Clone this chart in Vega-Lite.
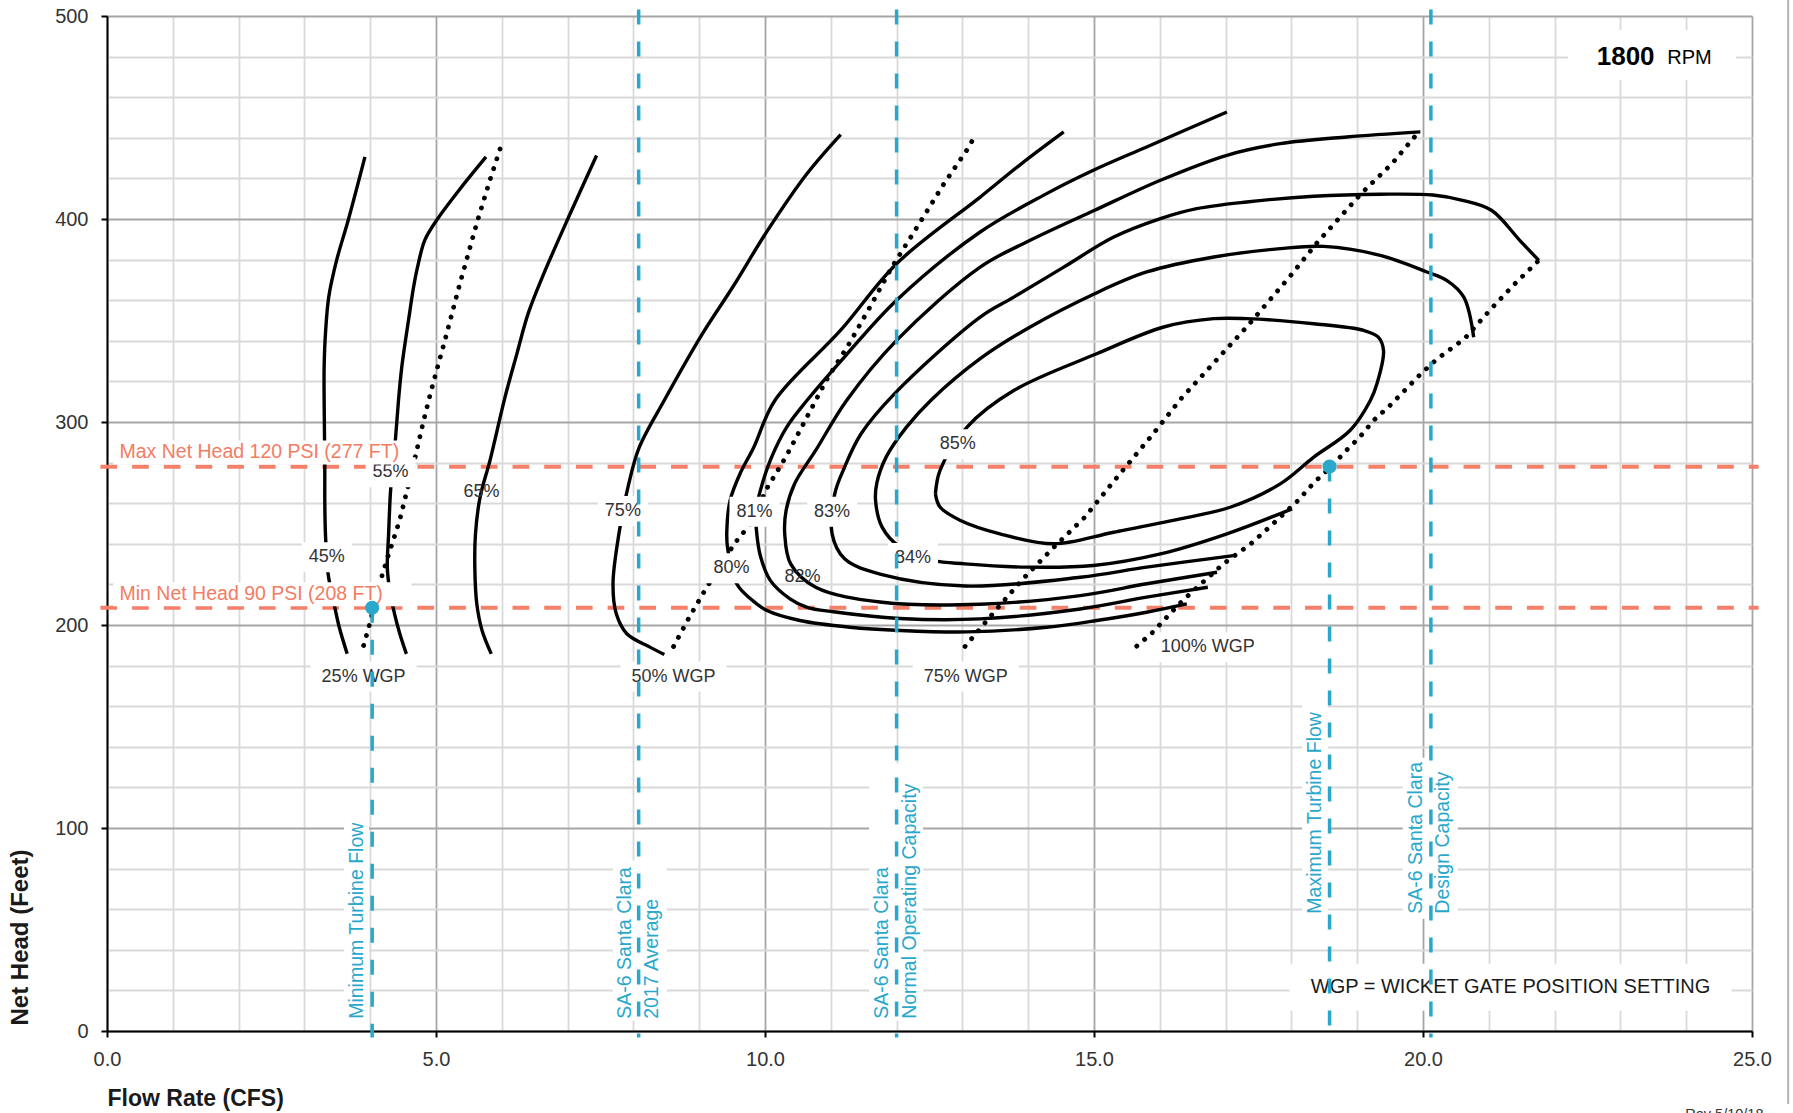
{
"$schema":"https://vega.github.io/schema/vega-lite/v6.json",
"width":1645,"height":1015,
"autosize":{"type":"none"},
"padding":{"left":107,"top":16,"right":41,"bottom":82},
"background":"white",
"config":{"view":{"stroke":null},"font":"Liberation Sans"},
"datasets":{
"limits":[{"name":"Max Net Head","x":-0.1,"x2":25.1,"y":278},{"name":"Min Net Head","x":-0.1,"x2":25.1,"y":208.5}],
"curves":[
{"c":"45","i":0,"x":3.92,"y":430.6},{"c":"45","i":1,"x":3.67,"y":399.9},{"c":"45","i":2,"x":3.49,"y":379.7},{"c":"45","i":3,"x":3.37,"y":361.6},{"c":"45","i":4,"x":3.32,"y":343.5},{"c":"45","i":5,"x":3.30,"y":327.1},{"c":"45","i":6,"x":3.30,"y":310.7},{"c":"45","i":7,"x":3.31,"y":277.8},{"c":"45","i":8,"x":3.31,"y":261.3},{"c":"45","i":9,"x":3.32,"y":244.9},{"c":"45","i":10,"x":3.36,"y":225.2},{"c":"45","i":11,"x":3.44,"y":212.2},{"c":"45","i":12,"x":3.53,"y":198.9},{"c":"45","i":13,"x":3.65,"y":185.8},
{"c":"55","i":0,"x":5.76,"y":430.6},{"c":"55","i":1,"x":5.35,"y":414.2},{"c":"55","i":2,"x":5.01,"y":399.4},{"c":"55","i":3,"x":4.83,"y":389.6},{"c":"55","i":4,"x":4.72,"y":376.4},{"c":"55","i":5,"x":4.66,"y":366.6},{"c":"55","i":6,"x":4.59,"y":351.8},{"c":"55","i":7,"x":4.48,"y":327.1},{"c":"55","i":8,"x":4.43,"y":310.7},{"c":"55","i":9,"x":4.37,"y":286.0},{"c":"55","i":10,"x":4.31,"y":266.3},{"c":"55","i":11,"x":4.28,"y":244.9},{"c":"55","i":12,"x":4.26,"y":228.5},{"c":"55","i":13,"x":4.29,"y":218.6},{"c":"55","i":14,"x":4.37,"y":205.5},{"c":"55","i":15,"x":4.45,"y":195.7},{"c":"55","i":16,"x":4.55,"y":185.8},
{"c":"65","i":0,"x":7.44,"y":431.3},{"c":"65","i":1,"x":7.04,"y":402.7},{"c":"65","i":2,"x":6.64,"y":373.2},{"c":"65","i":3,"x":6.40,"y":353.4},{"c":"65","i":4,"x":6.23,"y":333.7},{"c":"65","i":5,"x":6.05,"y":312.4},{"c":"65","i":6,"x":5.82,"y":281.0},{"c":"65","i":7,"x":5.67,"y":263.0},{"c":"65","i":8,"x":5.60,"y":244.9},{"c":"65","i":9,"x":5.59,"y":228.5},{"c":"65","i":10,"x":5.62,"y":210.4},{"c":"65","i":11,"x":5.70,"y":197.3},{"c":"65","i":12,"x":5.84,"y":185.8},
{"c":"75","i":0,"x":11.15,"y":441.6},{"c":"75","i":1,"x":10.64,"y":422.4},{"c":"75","i":2,"x":10.04,"y":394.4},{"c":"75","i":3,"x":9.51,"y":366.5},{"c":"75","i":4,"x":9.05,"y":343.5},{"c":"75","i":5,"x":8.47,"y":310.7},{"c":"75","i":6,"x":8.09,"y":287.6},{"c":"75","i":7,"x":7.93,"y":269.6},{"c":"75","i":8,"x":7.78,"y":244.9},{"c":"75","i":9,"x":7.69,"y":220.3},{"c":"75","i":10,"x":7.74,"y":205.5},{"c":"75","i":11,"x":7.90,"y":195.7},{"c":"75","i":12,"x":8.25,"y":189.1},{"c":"75","i":13,"x":8.47,"y":185.5},
{"c":"80","i":0,"x":14.54,"y":442.9},{"c":"80","i":1,"x":13.90,"y":427.3},{"c":"80","i":2,"x":13.27,"y":410.8},{"c":"80","i":3,"x":12.00,"y":378.0},{"c":"80","i":4,"x":11.15,"y":345.2},{"c":"80","i":5,"x":10.15,"y":310.6},{"c":"80","i":6,"x":9.83,"y":287.6},{"c":"80","i":7,"x":9.62,"y":274.5},{"c":"80","i":8,"x":9.47,"y":261.4},{"c":"80","i":9,"x":9.42,"y":246.6},{"c":"80","i":10,"x":9.43,"y":238.3},{"c":"80","i":11,"x":9.57,"y":220.3},{"c":"80","i":12,"x":9.78,"y":212.9},{"c":"80","i":13,"x":10.03,"y":207.1},{"c":"80","i":14,"x":10.53,"y":202.2},{"c":"80","i":15,"x":11.29,"y":198.9},{"c":"80","i":16,"x":12.06,"y":197.3},{"c":"80","i":17,"x":13.07,"y":196.6},{"c":"80","i":18,"x":14.28,"y":198.9},{"c":"80","i":19,"x":15.04,"y":202.2},{"c":"80","i":20,"x":15.80,"y":206.3},{"c":"80","i":21,"x":16.41,"y":210.4},
{"c":"81","i":0,"x":17.02,"y":452.7},{"c":"81","i":1,"x":15.80,"y":435.5},{"c":"81","i":2,"x":14.99,"y":424.0},{"c":"81","i":3,"x":14.28,"y":412.5},{"c":"81","i":4,"x":13.27,"y":393.6},{"c":"81","i":5,"x":12.00,"y":360.0},{"c":"81","i":6,"x":11.21,"y":332.1},{"c":"81","i":7,"x":10.64,"y":310.7},{"c":"81","i":8,"x":10.33,"y":297.5},{"c":"81","i":9,"x":10.08,"y":281.1},{"c":"81","i":10,"x":9.93,"y":266.3},{"c":"81","i":11,"x":9.86,"y":256.0},{"c":"81","i":12,"x":9.87,"y":246.6},{"c":"81","i":13,"x":9.93,"y":234.0},{"c":"81","i":14,"x":10.08,"y":222.0},{"c":"81","i":15,"x":10.38,"y":212.9},{"c":"81","i":16,"x":10.64,"y":208.7},{"c":"81","i":17,"x":11.04,"y":206.5},{"c":"81","i":18,"x":12.05,"y":203.2},{"c":"81","i":19,"x":13.27,"y":203.0},{"c":"81","i":20,"x":14.79,"y":207.9},{"c":"81","i":21,"x":15.80,"y":213.7},{"c":"81","i":22,"x":16.73,"y":218.6},
{"c":"82","i":0,"x":19.96,"y":442.9},{"c":"82","i":1,"x":18.84,"y":440.4},{"c":"82","i":2,"x":17.83,"y":437.1},{"c":"82","i":3,"x":17.02,"y":431.4},{"c":"82","i":4,"x":16.01,"y":419.1},{"c":"82","i":5,"x":15.01,"y":404.3},{"c":"82","i":6,"x":14.03,"y":389.5},{"c":"82","i":7,"x":13.27,"y":376.3},{"c":"82","i":8,"x":12.00,"y":340.2},{"c":"82","i":9,"x":11.24,"y":310.6},{"c":"82","i":10,"x":10.77,"y":286.0},{"c":"82","i":11,"x":10.45,"y":269.6},{"c":"82","i":12,"x":10.32,"y":256.3},{"c":"82","i":13,"x":10.30,"y":244.9},{"c":"82","i":14,"x":10.39,"y":230.1},{"c":"82","i":15,"x":10.77,"y":218.6},{"c":"82","i":16,"x":11.78,"y":211.2},{"c":"82","i":17,"x":13.27,"y":210.2},{"c":"82","i":18,"x":14.79,"y":214.5},{"c":"82","i":19,"x":15.80,"y":220.3},{"c":"82","i":20,"x":16.87,"y":226.0},
{"c":"83","i":0,"x":21.76,"y":379.6},{"c":"83","i":1,"x":21.47,"y":389.5},{"c":"83","i":2,"x":21.04,"y":404.3},{"c":"83","i":3,"x":20.60,"y":409.2},{"c":"83","i":4,"x":20.15,"y":411.8},{"c":"83","i":5,"x":19.35,"y":412.2},{"c":"83","i":6,"x":18.34,"y":411.2},{"c":"83","i":7,"x":17.32,"y":408.4},{"c":"83","i":8,"x":16.56,"y":405.1},{"c":"83","i":9,"x":16.01,"y":400.2},{"c":"83","i":10,"x":15.30,"y":391.1},{"c":"83","i":11,"x":14.54,"y":376.3},{"c":"83","i":12,"x":13.78,"y":361.5},{"c":"83","i":13,"x":13.27,"y":351.7},{"c":"83","i":14,"x":11.97,"y":314.0},{"c":"83","i":15,"x":11.46,"y":294.2},{"c":"83","i":16,"x":11.21,"y":277.8},{"c":"83","i":17,"x":11.06,"y":264.6},{"c":"83","i":18,"x":11.02,"y":244.9},{"c":"83","i":19,"x":11.21,"y":232.6},{"c":"83","i":20,"x":11.78,"y":224.8},{"c":"83","i":21,"x":13.04,"y":219.2},{"c":"83","i":22,"x":14.79,"y":223.5},{"c":"83","i":23,"x":15.80,"y":228.5},{"c":"83","i":24,"x":17.12,"y":234.2},
{"c":"84","i":0,"x":20.77,"y":341.8},{"c":"84","i":1,"x":20.62,"y":361.5},{"c":"84","i":2,"x":20.36,"y":369.8},{"c":"84","i":3,"x":20.06,"y":373.9},{"c":"84","i":4,"x":19.35,"y":382.1},{"c":"84","i":5,"x":18.49,"y":386.5},{"c":"84","i":6,"x":17.83,"y":385.4},{"c":"84","i":7,"x":16.82,"y":381.3},{"c":"84","i":8,"x":15.80,"y":373.9},{"c":"84","i":9,"x":15.01,"y":363.2},{"c":"84","i":10,"x":14.03,"y":346.8},{"c":"84","i":11,"x":13.27,"y":331.2},{"c":"84","i":12,"x":12.53,"y":311.0},{"c":"84","i":13,"x":12.15,"y":297.5},{"c":"84","i":14,"x":11.84,"y":282.7},{"c":"84","i":15,"x":11.70,"y":270.0},{"c":"84","i":16,"x":11.68,"y":261.4},{"c":"84","i":17,"x":11.78,"y":248.2},{"c":"84","i":18,"x":12.05,"y":238.4},{"c":"84","i":19,"x":12.56,"y":231.8},{"c":"84","i":20,"x":13.04,"y":230.1},{"c":"84","i":21,"x":13.98,"y":228.5},{"c":"84","i":22,"x":14.99,"y":229.3},{"c":"84","i":23,"x":16.01,"y":235.0},{"c":"84","i":24,"x":17.02,"y":244.9},{"c":"84","i":25,"x":18.01,"y":257.2},
{"c":"85","i":0,"x":12.59,"y":264.6},{"c":"85","i":1,"x":12.66,"y":258.1},{"c":"85","i":2,"x":12.97,"y":251.5},{"c":"85","i":3,"x":13.57,"y":244.9},{"c":"85","i":4,"x":14.39,"y":240.0},{"c":"85","i":5,"x":15.30,"y":245.7},{"c":"85","i":6,"x":16.31,"y":252.3},{"c":"85","i":7,"x":17.07,"y":258.0},{"c":"85","i":8,"x":17.83,"y":269.5},{"c":"85","i":9,"x":18.34,"y":282.7},{"c":"85","i":10,"x":18.89,"y":295.8},{"c":"85","i":11,"x":19.20,"y":310.6},{"c":"85","i":12,"x":19.30,"y":318.8},{"c":"85","i":13,"x":19.40,"y":335.2},{"c":"85","i":14,"x":19.32,"y":341.8},{"c":"85","i":15,"x":19.10,"y":345.1},{"c":"85","i":16,"x":18.34,"y":348.4},{"c":"85","i":17,"x":17.32,"y":350.9},{"c":"85","i":18,"x":16.82,"y":350.9},{"c":"85","i":19,"x":16.06,"y":346.8},{"c":"85","i":20,"x":15.04,"y":333.6},{"c":"85","i":21,"x":13.78,"y":315.5},{"c":"85","i":22,"x":13.07,"y":297.5},{"c":"85","i":23,"x":12.66,"y":276.2},{"c":"85","i":24,"x":12.59,"y":264.6}
],
"gates":[
{"c":"25","i":0,"x":3.90,"y":189.9},{"c":"25","i":1,"x":3.99,"y":200.3},{"c":"25","i":2,"x":4.15,"y":221.1},{"c":"25","i":3,"x":4.25,"y":231.8},{"c":"25","i":4,"x":4.35,"y":241.7},{"c":"25","i":5,"x":4.45,"y":252.0},{"c":"25","i":6,"x":4.57,"y":267.6},{"c":"25","i":7,"x":4.69,"y":283.5},{"c":"25","i":8,"x":4.80,"y":299.1},{"c":"25","i":9,"x":4.92,"y":314.7},{"c":"25","i":10,"x":5.14,"y":340.8},{"c":"25","i":11,"x":5.35,"y":366.6},{"c":"25","i":12,"x":5.62,"y":398.0},{"c":"25","i":13,"x":5.82,"y":419.2},{"c":"25","i":14,"x":6.02,"y":439.1},
{"c":"50","i":0,"x":8.61,"y":189.4},{"c":"50","i":1,"x":8.85,"y":203.9},{"c":"50","i":2,"x":9.10,"y":217.8},{"c":"50","i":3,"x":9.54,"y":240.3},{"c":"50","i":4,"x":9.76,"y":249.0},{"c":"50","i":5,"x":10.04,"y":267.9},{"c":"50","i":6,"x":10.31,"y":282.4},{"c":"50","i":7,"x":10.62,"y":301.3},{"c":"50","i":8,"x":10.93,"y":320.5},{"c":"50","i":9,"x":11.28,"y":338.6},{"c":"50","i":10,"x":11.61,"y":357.5},{"c":"50","i":11,"x":11.93,"y":376.4},{"c":"50","i":12,"x":12.28,"y":394.4},{"c":"50","i":13,"x":12.72,"y":417.4},{"c":"50","i":14,"x":13.10,"y":435.5},{"c":"50","i":15,"x":13.17,"y":439.9},
{"c":"75","i":0,"x":13.04,"y":189.4},{"c":"75","i":1,"x":13.48,"y":206.3},{"c":"75","i":2,"x":13.92,"y":222.7},{"c":"75","i":3,"x":14.39,"y":238.3},{"c":"75","i":4,"x":14.86,"y":253.1},{"c":"75","i":5,"x":15.27,"y":269.6},{"c":"75","i":6,"x":15.90,"y":294.2},{"c":"75","i":7,"x":16.32,"y":311.4},{"c":"75","i":8,"x":16.88,"y":331.2},{"c":"75","i":9,"x":17.32,"y":346.8},{"c":"75","i":10,"x":17.97,"y":371.4},{"c":"75","i":11,"x":18.38,"y":387.9},{"c":"75","i":12,"x":19.06,"y":412.5},{"c":"75","i":13,"x":19.53,"y":427.3},{"c":"75","i":14,"x":19.87,"y":440.4},
{"c":"100","i":0,"x":15.65,"y":189.6},{"c":"100","i":1,"x":15.88,"y":196.0},{"c":"100","i":2,"x":16.13,"y":204.7},{"c":"100","i":3,"x":16.35,"y":212.1},{"c":"100","i":4,"x":16.60,"y":219.5},{"c":"100","i":5,"x":16.97,"y":230.2},{"c":"100","i":6,"x":17.38,"y":239.9},{"c":"100","i":7,"x":17.72,"y":249.8},{"c":"100","i":8,"x":18.10,"y":261.3},{"c":"100","i":9,"x":18.35,"y":270.4},{"c":"100","i":10,"x":18.60,"y":277.8},{"c":"100","i":11,"x":18.81,"y":285.2},{"c":"100","i":12,"x":19.04,"y":292.6},{"c":"100","i":13,"x":19.25,"y":300.8},{"c":"100","i":14,"x":19.50,"y":308.2},{"c":"100","i":15,"x":19.97,"y":323.8},{"c":"100","i":16,"x":20.22,"y":331.2},{"c":"100","i":17,"x":20.63,"y":341.0},{"c":"100","i":18,"x":21.06,"y":356.6},{"c":"100","i":19,"x":21.40,"y":368.2},{"c":"100","i":20,"x":21.76,"y":379.6}
],
"pct":[{"label":"45%","x":3.34,"y":233.4},{"label":"55%","x":4.31,"y":275.3},{"label":"65%","x":5.69,"y":265.5},{"label":"75%","x":7.84,"y":256.1},{"label":"80%","x":9.49,"y":228.0},{"label":"81%","x":9.84,"y":255.8},{"label":"82%","x":10.57,"y":223.4},{"label":"83%","x":11.02,"y":255.8},{"label":"84%","x":12.25,"y":233.0},{"label":"85%","x":12.93,"y":289.1}],
"wgp":[{"label":"25% WGP","x":3.90,"y":174.6},{"label":"50% WGP","x":8.61,"y":174.6},{"label":"75% WGP","x":13.05,"y":174.6},{"label":"100% WGP","x":16.73,"y":189.1}],
"heads":[{"label":"Max Net Head 120 PSI (277 FT)","x":0.19,"y":285.0},{"label":"Min Net Head 90 PSI (208 FT)","x":0.19,"y":215.2}],
"flows":[{"name":"Minimum Turbine Flow","x":4.03,"y":208.5,"y2":-3.2},{"name":"SA-6 Santa Clara 2017 Average","x":8.08,"y":503.2,"y2":-3.2},{"name":"SA-6 Santa Clara Normal Operating Capacity","x":12.0,"y":503.2,"y2":-3.2},{"name":"Maximum Turbine Flow","x":18.58,"y":278.1,"y2":-3.2},{"name":"SA-6 Santa Clara Design Capacity","x":20.12,"y":503.2,"y2":-3.2}],
"points":[{"name":"Minimum Turbine Flow","x":4.03,"y":208.5},{"name":"Maximum Turbine Flow","x":18.58,"y":278.1}],
"flowLabels":[{"label":"Minimum Turbine Flow","x":3.80,"y":6.0},{"label":"SA-6 Santa Clara\n2017 Average","x":7.87,"y":6.0},{"label":"SA-6 Santa Clara\nNormal Operating Capacity","x":11.78,"y":6.0},{"label":"Maximum Turbine Flow","x":18.36,"y":57.8},{"label":"SA-6 Santa Clara\nDesign Capacity","x":19.89,"y":57.8}],
"notes":[{"label":"1800","x":23.08,"y":479.9},{"label":"RPM","x":24.05,"y":479.5},{"label":"WGP = WICKET GATE POSITION SETTING","x":21.33,"y":21.5},{"label":"Rev 5/10/18","x":24.58,"y":-37.8}]
},
"layer":[
{"data":{"name":"limits"},
 "mark":{"type":"rule","color":"#f4806a","strokeWidth":4,"strokeDash":[16.7,15]},
 "encoding":{
  "x":{"field":"x","type":"quantitative","scale":{"domain":[0,25],"nice":false,"zero":false},
   "axis":{"values":[0,1,2,3,4,5,6,7,8,9,10,11,12,13,14,15,16,17,18,19,20,21,22,23,24,25],
    "grid":true,"gridWidth":1.8,
    "gridColor":{"condition":{"test":"datum.value % 5 === 0","value":"#a6a6a6"},"value":"#d9d9d9"},
    "domainColor":"#000000","domainWidth":2,"tickColor":"#000000","tickWidth":2,"tickSize":6,
    "tickOpacity":{"condition":{"test":"datum.value % 5 === 0","value":1},"value":0},
    "labelExpr":"datum.value % 5 === 0 ? format(datum.value, '.1f') : ''",
    "labelFont":"Liberation Sans","labelFontSize":20,"labelColor":"#333333","labelPadding":12,"labelOverlap":false,"labelFlush":false,
    "title":"Flow Rate (CFS)","titleFont":"Liberation Sans","titleFontSize":23,"titleFontWeight":"bold","titleColor":"#1a1a1a",
    "titleAnchor":"start","titleAlign":"left","titleX":0,"titleY":74,"titleBaseline":"alphabetic"}},
  "x2":{"field":"x2"},
  "y":{"field":"y","type":"quantitative","scale":{"domain":[0,500],"nice":false,"zero":false},
   "axis":{"values":[0,10,20,30,40,50,60,70,80,90,100,110,120,130,140,150,160,170,180,190,200,210,220,230,240,250,260,270,280,290,300,310,320,330,340,350,360,370,380,390,400,410,420,430,440,450,460,470,480,490,500],
    "grid":true,"gridWidth":1.8,
    "gridColor":{"condition":{"test":"datum.value % 50 === 0","value":"#a6a6a6"},"value":"#d9d9d9"},
    "domainColor":"#000000","domainWidth":2,"tickColor":"#000000","tickWidth":2,"tickSize":6,
    "tickOpacity":{"condition":{"test":"datum.value % 50 === 0","value":1},"value":0},
    "labelExpr":"datum.value % 50 === 0 ? datum.label : ''",
    "labelFont":"Liberation Sans","labelFontSize":20,"labelColor":"#333333","labelPadding":13,"labelOverlap":false,"labelFlush":false,
    "title":"Net Head (Feet)","titleFont":"Liberation Sans","titleFontSize":24,"titleFontWeight":"bold","titleColor":"#1a1a1a",
    "titleAngle":270,"titleAlign":"left","titleBaseline":"alphabetic","titleX":-80,"titleY":1009}}
 }},
{"data":{"name":"curves"},
 "mark":{"type":"line","color":"#000000","strokeWidth":3.4,"interpolate":"catmull-rom"},
 "encoding":{"x":{"field":"x","type":"quantitative"},"y":{"field":"y","type":"quantitative"},
  "detail":{"field":"c"},"order":{"field":"i","type":"quantitative"}}},
{"data":{"name":"gates"},
 "mark":{"type":"line","color":"#000000","strokeWidth":4.8,"strokeCap":"round","strokeDash":[0.1,10.2],"interpolate":"linear"},
 "encoding":{"x":{"field":"x","type":"quantitative"},"y":{"field":"y","type":"quantitative"},
  "detail":{"field":"c"},"order":{"field":"i","type":"quantitative"}}},
{"data":{"name":"pct"},"transform":[{"filter":"datum.label !== '65%' && datum.label !== '82%'"}],
 "mark":{"type":"point","shape":"M-0.25,-0.15H0.25V0.15H-0.25Z","size":40000,"filled":true,"color":"#ffffff","opacity":1,"strokeWidth":0},
 "encoding":{"x":{"field":"x","type":"quantitative"},"y":{"field":"y","type":"quantitative"}}},
{"data":{"name":"pct"},
 "mark":{"type":"text","font":"Liberation Sans","fontSize":18,"color":"#333333","align":"center","baseline":"middle"},
 "encoding":{"x":{"field":"x","type":"quantitative"},"y":{"field":"y","type":"quantitative"},"text":{"field":"label"}}},
{"data":{"name":"wgp"},
 "mark":{"type":"point","shape":"M-0.53,-0.15H0.53V0.15H-0.53Z","size":40000,"filled":true,"color":"#ffffff","opacity":1,"strokeWidth":0},
 "encoding":{"x":{"field":"x","type":"quantitative"},"y":{"field":"y","type":"quantitative"}}},
{"data":{"name":"wgp"},
 "mark":{"type":"text","font":"Liberation Sans","fontSize":18,"color":"#333333","align":"center","baseline":"middle"},
 "encoding":{"x":{"field":"x","type":"quantitative"},"y":{"field":"y","type":"quantitative"},"text":{"field":"label"}}},
{"data":{"name":"heads"},
 "mark":{"type":"point","shape":"M-0.06,-0.12H2.92V0.12H-0.06Z","size":40000,"filled":true,"color":"#ffffff","opacity":1,"strokeWidth":0},
 "encoding":{"x":{"field":"x","type":"quantitative"},"y":{"field":"y","type":"quantitative"}}},
{"data":{"name":"heads"},
 "mark":{"type":"text","font":"Liberation Sans","fontSize":19.5,"color":"#f37c62","align":"left","baseline":"middle"},
 "encoding":{"x":{"field":"x","type":"quantitative"},"y":{"field":"y","type":"quantitative"},"text":{"field":"label"}}},
{"data":{"name":"flowLabels"},
 "mark":{"type":"point","size":40000,"filled":true,"color":"#ffffff","opacity":1,"strokeWidth":0},
 "encoding":{"x":{"field":"x","type":"quantitative"},"y":{"field":"y","type":"quantitative"},
  "shape":{"field":"label","type":"nominal","legend":null,
   "scale":{"domain":["Minimum Turbine Flow","SA-6 Santa Clara\n2017 Average","SA-6 Santa Clara\nNormal Operating Capacity","Maximum Turbine Flow","SA-6 Santa Clara\nDesign Capacity"],
    "range":["M-0.13,0.05H0.12V-2.1H-0.13Z","M-0.12,0.02H0.42V-1.58H-0.12Z","M-0.13,0.02H0.41V-2.55H-0.13Z","M-0.13,0.05H0.13V-2.1H-0.13Z","M-0.13,0.05H0.42V-1.56H-0.13Z"]}}}},
{"data":{"name":"notes"},"transform":[{"filter":"datum.label === 'WGP = WICKET GATE POSITION SETTING'"}],
 "mark":{"type":"point","shape":"M-2.21,-0.235H2.21V0.235H-2.21Z","size":40000,"filled":true,"color":"#ffffff","opacity":1,"strokeWidth":0},
 "encoding":{"x":{"field":"x","type":"quantitative"},"y":{"field":"y","type":"quantitative"}}},
{"data":{"name":"notes"},"transform":[{"filter":"datum.label === 'WGP = WICKET GATE POSITION SETTING'"}],
 "mark":{"type":"text","font":"Liberation Sans","fontSize":20,"color":"#1a1a1a","align":"center","baseline":"middle"},
 "encoding":{"x":{"field":"x","type":"quantitative"},"y":{"field":"y","type":"quantitative"},"text":{"field":"label"}}},
{"data":{"name":"flows"},
 "mark":{"type":"rule","color":"#29a8cc","strokeWidth":3.5,"strokeDash":[15,17]},
 "encoding":{"x":{"field":"x","type":"quantitative"},"y":{"field":"y","type":"quantitative"},"y2":{"field":"y2"}}},
{"data":{"name":"flowLabels"},
 "mark":{"type":"text","font":"Liberation Sans","fontSize":19.5,"color":"#29a8cc","angle":270,"align":"left","baseline":"middle","lineBreak":"\n","lineHeight":27.5},
 "encoding":{"x":{"field":"x","type":"quantitative"},"y":{"field":"y","type":"quantitative"},"text":{"field":"label"}}},
{"data":{"name":"points"},
 "mark":{"type":"circle","size":200,"color":"#29a8cc","opacity":1},
 "encoding":{"x":{"field":"x","type":"quantitative"},"y":{"field":"y","type":"quantitative"}}},
{"data":{"name":"notes"},"transform":[{"filter":"datum.label === '1800'"}],
 "mark":{"type":"point","shape":"M-0.575,-0.267H1.105V0.233H-0.575Z","size":40000,"filled":true,"color":"#ffffff","opacity":1,"strokeWidth":0},
 "encoding":{"x":{"field":"x","type":"quantitative"},"y":{"field":"y","type":"quantitative"}}},
{"data":{"name":"notes"},"transform":[{"filter":"datum.label === '1800'"}],
 "mark":{"type":"text","font":"Liberation Sans","fontSize":26,"fontWeight":"bold","color":"#000000","align":"center","baseline":"middle"},
 "encoding":{"x":{"field":"x","type":"quantitative"},"y":{"field":"y","type":"quantitative"},"text":{"field":"label"}}},
{"data":{"name":"notes"},"transform":[{"filter":"datum.label === 'RPM'"}],
 "mark":{"type":"text","font":"Liberation Sans","fontSize":20,"color":"#000000","align":"center","baseline":"middle"},
 "encoding":{"x":{"field":"x","type":"quantitative"},"y":{"field":"y","type":"quantitative"},"text":{"field":"label"}}},
{"data":{"name":"notes"},"transform":[{"filter":"datum.label === 'Rev 5/10/18'"}],
 "mark":{"type":"text","font":"Liberation Sans","fontSize":14.5,"color":"#333333","align":"center","baseline":"top"},
 "encoding":{"x":{"field":"x","type":"quantitative"},"y":{"field":"y","type":"quantitative"},"text":{"field":"label"}}},
{"data":{"values":[{}]},
 "mark":{"type":"rule","color":"#b3b3b3","strokeWidth":2},
 "encoding":{"x":{"datum":25.55,"type":"quantitative"},"y":{"datum":508,"type":"quantitative"},"y2":{"datum":-36}}}
]
}
